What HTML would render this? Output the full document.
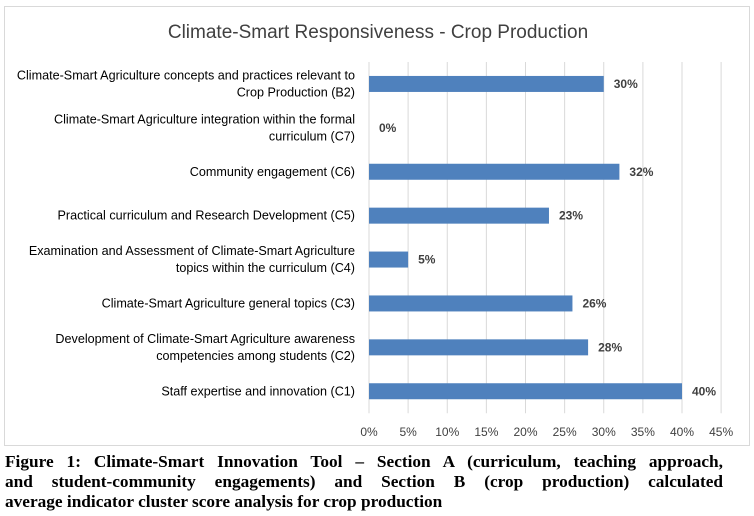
<!DOCTYPE html>
<html><head><meta charset="utf-8"><style>
body{margin:0;width:754px;height:516px;background:#fff;overflow:hidden;font-family:"Liberation Sans",sans-serif}
#cap{position:absolute;left:5px;top:452px;width:718px;font-family:"Liberation Serif",serif;font-weight:bold;font-size:17.3px;line-height:20px;color:#000}
#cap div{text-align:justify;text-align-last:justify;white-space:nowrap}
#cap div.last{text-align-last:left}
</style></head><body>
<svg width="754" height="450" style="position:absolute;left:0;top:0">
<rect x="4.5" y="6.5" width="745" height="439" fill="#fff" stroke="#d9d9d9"/>
<text x="378" y="38" text-anchor="middle" font-size="19" fill="#404040">Climate-Smart Responsiveness - Crop Production</text>
<g id="grid"></g><g id="bars"></g><g id="labels"></g><g id="ticks"></g>
</svg>
<div id="cap"><div style="white-space:normal">Figure 1: Climate-Smart Innovation Tool – Section A (curriculum, teaching approach,</div><div style="white-space:normal">and student-community engagements) and Section B (crop production) calculated</div><div class="last">average indicator cluster score analysis for crop production</div></div>
<script>
const categories=[["Climate-Smart Agriculture concepts and practices relevant to","Crop Production (B2)"],["Climate-Smart Agriculture integration within the formal","curriculum (C7)"],["Community engagement (C6)"],["Practical curriculum and Research Development (C5)"],["Examination and Assessment of Climate-Smart Agriculture","topics within the curriculum (C4)"],["Climate-Smart Agriculture general topics (C3)"],["Development of Climate-Smart Agriculture awareness","competencies among students (C2)"],["Staff expertise and innovation (C1)"]];
const values=[30,0,32,23,5,26,28,40];
const ticks=[0,5,10,15,20,25,30,35,40,45];
const NS="http://www.w3.org/2000/svg";
const x=v=>369+v*7.825;
const top0=62,band=43.9;
const yc=i=>top0+band*(i+0.5);
function mk(t,a,p){const e=document.createElementNS(NS,t);for(const k in a)e.setAttribute(k,a[k]);document.getElementById(p).appendChild(e);return e;}
ticks.forEach(t=>{
 const l=mk('line',{x1:x(t),x2:x(t),y1:top0,y2:top0+band*categories.length,stroke:'#d9d9d9'},'grid');
 
 
 const tx=mk('text',{x:x(t),y:436,'text-anchor':'middle','font-size':12,fill:'#404040'},'ticks');
 tx.textContent=t+'%';
 
 
});
values.forEach((v,i)=>{
 const r=mk('rect',{x:x(0),y:yc(i)-8,width:x(v)-x(0),height:16,fill:'#4f81bd'},'bars');
 
 
 const t=mk('text',{x:x(v)+10,y:yc(i)+4,'font-size':12,'font-weight':'bold',fill:'#404040'},'bars');
 t.textContent=v+'%';
 
 
 const lines=categories[i];
 lines.forEach((s,j)=>{
  const lt=mk('text',{x:355,y:yc(i)+4+(j-(lines.length-1)/2)*17,'text-anchor':'end','font-size':12.6,fill:'#000'},'labels');
  lt.textContent=s;
  
  
 });
});
</script>
</body></html>
